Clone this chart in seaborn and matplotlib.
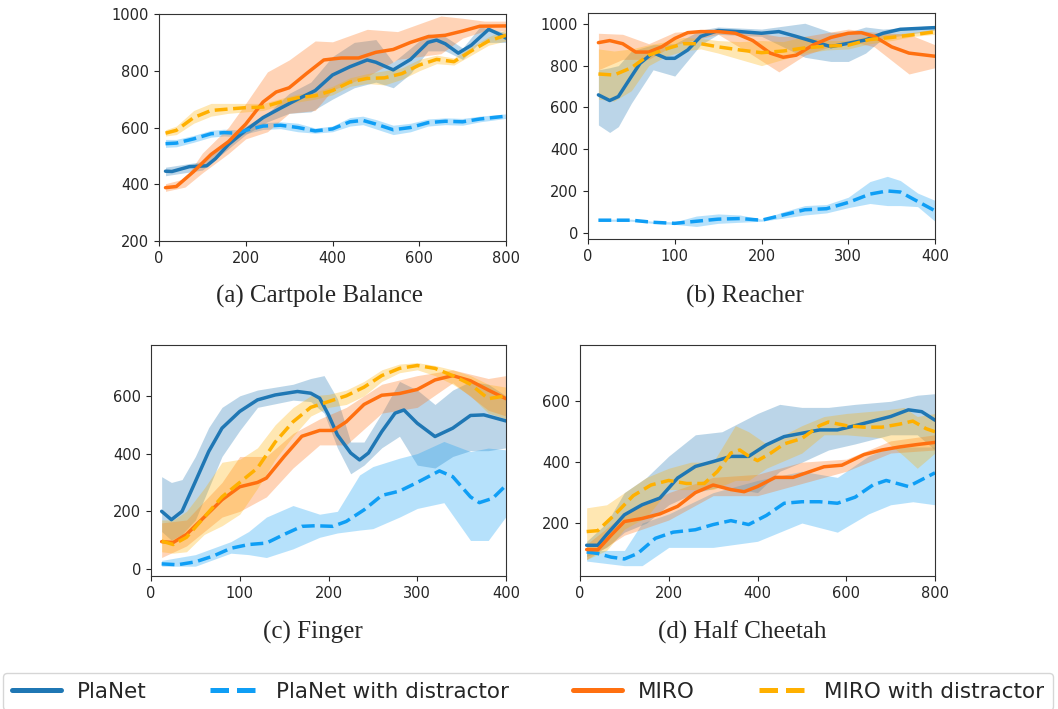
import numpy as np
import matplotlib
matplotlib.use("Agg")
import matplotlib.pyplot as plt
from matplotlib.lines import Line2D
import seaborn as sns

# colours
c_planet = "#1f77b4"
c_planet_d = "#0f9ef5"
c_miro = "#ff7010"
c_miro_d = "#ffb000"

labels = ["PlaNet", "PlaNet with distractor", "MIRO", "MIRO with distractor"]
captions = ["(a) Cartpole Balance", "(b) Reacher", "(c) Finger", "(d) Half Cheetah"]

# ---- (a) Cartpole Balance ----
a_planet_x = [15, 30, 70, 110, 130, 160, 200, 240, 280, 320, 360, 400, 440, 480, 500, 540, 580, 620, 640, 660, 690, 720, 760, 790, 800]
a_planet_y = [446, 445, 462, 465, 490, 540, 590, 635, 668, 700, 730, 785, 814, 838, 830, 803, 840, 900, 908, 895, 862, 890, 946, 925, 915]
a_planet_bx = [15, 100, 200, 250, 300, 350, 400, 450, 500, 540, 580, 620, 660, 700, 740, 800]
a_planet_lo = [430, 450, 575, 620, 650, 655, 700, 740, 760, 740, 790, 870, 870, 840, 900, 900]
a_planet_hi = [460, 480, 605, 650, 720, 760, 850, 900, 910, 830, 880, 930, 920, 880, 955, 935]

a_dist_x = [15, 40, 80, 120, 150, 180, 200, 240, 280, 320, 360, 400, 440, 470, 500, 540, 580, 620, 660, 700, 740, 800]
a_dist_y = [543, 545, 560, 578, 582, 580, 590, 605, 608, 600, 588, 595, 620, 625, 612, 592, 600, 617, 622, 620, 630, 640]
a_dist_lo = [530, 532, 548, 566, 570, 568, 578, 593, 596, 585, 580, 585, 605, 610, 595, 575, 585, 605, 610, 608, 620, 632]
a_dist_hi = [558, 558, 572, 590, 594, 592, 602, 617, 620, 615, 598, 605, 635, 640, 628, 608, 615, 630, 634, 632, 640, 648]

a_miro_x = [15, 40, 80, 120, 160, 200, 240, 270, 300, 340, 380, 420, 460, 500, 540, 580, 620, 660, 700, 740, 800]
a_miro_y = [388, 392, 445, 505, 550, 612, 690, 725, 740, 790, 838, 845, 845, 865, 875, 900, 920, 925, 940, 957, 958]
a_miro_bx = [15, 60, 100, 160, 200, 250, 300, 360, 400, 480, 550, 650, 700, 750, 800]
a_miro_lo = [375, 390, 440, 508, 560, 585, 650, 660, 732, 780, 840, 860, 915, 940, 940]
a_miro_hi = [402, 420, 510, 600, 685, 796, 838, 905, 902, 946, 938, 993, 985, 975, 975]

a_mirod_x = [15, 40, 80, 120, 160, 200, 240, 280, 320, 360, 400, 440, 480, 520, 560, 600, 640, 680, 720, 760, 800]
a_mirod_y = [580, 590, 635, 660, 665, 670, 672, 690, 705, 712, 730, 760, 773, 775, 790, 820, 840, 832, 870, 905, 925]
a_mirod_lo = [570, 575, 615, 640, 650, 655, 660, 678, 690, 700, 715, 745, 755, 750, 770, 800, 825, 820, 855, 890, 905]
a_mirod_hi = [592, 605, 660, 685, 685, 685, 685, 702, 718, 725, 745, 775, 790, 800, 810, 840, 855, 845, 885, 920, 945]

# ---- (b) Reacher ----
b_planet_x = [12, 25, 35, 50, 60, 75, 90, 100, 115, 130, 150, 175, 200, 220, 240, 260, 280, 300, 320, 340, 360, 400]
b_planet_y = [660, 633, 652, 748, 811, 862, 835, 835, 875, 940, 968, 963, 955, 963, 940, 915, 891, 907, 923, 955, 974, 982]
b_planet_bx = [12, 25, 35, 50, 75, 100, 130, 150, 200, 250, 280, 300, 320, 340, 400]
b_planet_lo = [516, 480, 508, 620, 780, 750, 900, 950, 940, 840, 820, 820, 860, 930, 970]
b_planet_hi = [780, 790, 800, 870, 900, 905, 970, 985, 975, 1003, 960, 960, 985, 975, 992]

b_dist_x = [12, 50, 75, 100, 125, 150, 175, 200, 225, 250, 275, 300, 325, 345, 360, 380, 400]
b_dist_y = [60, 60, 50, 45, 55, 65, 68, 60, 85, 110, 115, 145, 185, 200, 195, 150, 105]
b_dist_lo = [55, 55, 45, 40, 30, 45, 50, 55, 70, 85, 95, 120, 140, 130, 130, 125, 55]
b_dist_hi = [65, 65, 55, 52, 80, 90, 85, 65, 100, 130, 135, 170, 245, 270, 250, 190, 155]

b_miro_x = [12, 25, 40, 55, 70, 85, 100, 115, 130, 150, 170, 190, 210, 225, 240, 260, 280, 300, 315, 330, 350, 370, 400]
b_miro_y = [910, 920, 905, 865, 865, 890, 930, 958, 963, 963, 955, 920, 860, 840, 850, 900, 935, 955, 958, 940, 890, 860, 845]
b_miro_bx = [12, 40, 70, 100, 150, 190, 220, 250, 300, 330, 370, 400]
b_miro_lo = [780, 830, 830, 900, 950, 850, 770, 850, 920, 890, 760, 790]
b_miro_hi = [955, 950, 905, 960, 975, 960, 940, 940, 975, 960, 950, 900]

b_mirod_x = [12, 30, 50, 70, 90, 110, 130, 150, 175, 200, 225, 250, 275, 300, 325, 350, 375, 400]
b_mirod_y = [760, 755, 790, 850, 880, 905, 905, 890, 875, 862, 870, 885, 893, 898, 925, 935, 948, 962]
b_mirod_lo = [640, 630, 680, 800, 845, 870, 880, 860, 830, 800, 830, 860, 875, 880, 905, 920, 940, 950]
b_mirod_hi = [880, 870, 880, 900, 915, 935, 930, 920, 915, 920, 915, 940, 920, 920, 945, 950, 960, 975]

# ---- (c) Finger ----
c_planet_x = [12, 23, 35, 50, 65, 80, 100, 120, 140, 165, 180, 190, 200, 210, 225, 235, 245, 260, 275, 285, 300, 320, 340, 360, 375, 400]
c_planet_y = [200, 171, 200, 303, 407, 488, 546, 586, 603, 615, 609, 592, 534, 465, 402, 378, 402, 476, 540, 551, 505, 459, 488, 532, 534, 513]
c_planet_bx = [12, 23, 35, 50, 65, 80, 100, 120, 160, 180, 195, 210, 225, 240, 260, 280, 300, 320, 340, 360, 380, 400]
c_planet_lo = [130, 100, 120, 170, 280, 390, 480, 560, 585, 580, 540, 420, 330, 360, 420, 460, 360, 350, 390, 410, 410, 420]
c_planet_hi = [320, 300, 310, 390, 490, 560, 600, 620, 640, 660, 670, 590, 440, 440, 540, 650, 620, 570, 620, 650, 640, 600]

c_dist_x = [12, 30, 50, 70, 90, 110, 130, 150, 170, 185, 205, 220, 240, 260, 280, 300, 325, 340, 360, 370, 385, 400]
c_dist_y = [18, 15, 25, 45, 72, 85, 90, 120, 148, 150, 148, 165, 205, 255, 270, 300, 340, 320, 250, 230, 245, 290]
c_dist_bx = [12, 50, 90, 110, 130, 160, 190, 210, 235, 250, 280, 300, 330, 360, 380, 400]
c_dist_lo = [10, 10, 55, 50, 40, 70, 110, 125, 135, 140, 180, 210, 230, 99, 99, 182]
c_dist_hi = [30, 50, 95, 130, 180, 220, 190, 200, 326, 355, 384, 400, 442, 407, 419, 413]

c_miro_x = [12, 25, 40, 60, 80, 100, 120, 130, 150, 170, 190, 205, 220, 240, 260, 280, 300, 320, 340, 360, 380, 400]
c_miro_y = [95, 92, 120, 180, 240, 285, 300, 315, 390, 460, 480, 480, 510, 570, 602, 608, 622, 655, 670, 652, 620, 590]
c_miro_bx = [12, 40, 80, 100, 130, 160, 190, 220, 260, 300, 340, 380, 400]
c_miro_lo = [40, 80, 180, 200, 250, 350, 430, 430, 540, 560, 645, 550, 530]
c_miro_hi = [160, 170, 300, 390, 390, 470, 520, 560, 640, 670, 690, 660, 670]

c_mirod_x = [12, 25, 40, 60, 80, 100, 120, 140, 160, 180, 200, 220, 240, 260, 280, 300, 320, 340, 360, 380, 400]
c_mirod_y = [97, 85, 110, 180, 250, 300, 350, 440, 510, 560, 580, 600, 630, 670, 695, 705, 695, 670, 640, 590, 600]
c_mirod_lo = [60, 55, 60, 120, 150, 190, 280, 380, 460, 530, 560, 570, 600, 650, 680, 690, 670, 640, 600, 540, 520]
c_mirod_hi = [170, 170, 200, 280, 370, 380, 420, 500, 560, 600, 605, 620, 650, 690, 710, 715, 705, 690, 670, 640, 630]

# ---- (d) Half Cheetah ----
d_planet_x = [15, 40, 60, 100, 140, 180, 220, 260, 300, 340, 380, 420, 460, 500, 540, 580, 620, 660, 700, 740, 770, 800]
d_planet_y = [127, 127, 162, 227, 260, 282, 348, 386, 402, 419, 419, 457, 484, 495, 506, 506, 520, 535, 550, 572, 566, 538]
d_planet_bx = [15, 60, 100, 150, 200, 260, 320, 400, 450, 500, 560, 620, 700, 760, 800]
d_planet_lo = [90, 120, 170, 200, 260, 300, 320, 300, 370, 400, 440, 460, 490, 490, 440]
d_planet_hi = [140, 200, 300, 350, 420, 490, 500, 560, 590, 580, 580, 590, 600, 620, 625]

d_dist_x = [15, 40, 70, 100, 130, 170, 210, 260, 300, 340, 380, 420, 460, 500, 540, 580, 620, 660, 690, 740, 800]
d_dist_y = [105, 100, 88, 82, 100, 150, 170, 178, 195, 208, 195, 225, 265, 270, 270, 265, 285, 325, 340, 320, 365]
d_dist_bx = [15, 100, 140, 200, 300, 400, 500, 580, 650, 700, 750, 800]
d_dist_lo = [75, 60, 60, 120, 120, 140, 200, 170, 230, 260, 270, 260]
d_dist_hi = [110, 110, 200, 230, 300, 340, 370, 350, 420, 450, 450, 450]

d_miro_x = [15, 40, 70, 100, 140, 180, 220, 260, 300, 340, 370, 400, 440, 480, 520, 550, 590, 640, 680, 720, 760, 800]
d_miro_y = [113, 112, 160, 205, 215, 230, 255, 300, 325, 310, 303, 320, 350, 350, 370, 385, 390, 425, 440, 450, 458, 465]
d_miro_bx = [15, 100, 200, 300, 400, 500, 600, 700, 800]
d_miro_lo = [80, 160, 210, 290, 290, 330, 370, 430, 440]
d_miro_hi = [130, 230, 300, 350, 360, 400, 410, 470, 490]

d_mirod_x = [15, 40, 80, 120, 160, 200, 240, 280, 310, 340, 360, 380, 400, 430, 460, 500, 540, 560, 600, 640, 680, 720, 750, 780, 800]
d_mirod_y = [172, 175, 230, 290, 325, 340, 330, 330, 370, 430, 440, 420, 405, 430, 460, 478, 520, 532, 520, 515, 515, 525, 535, 510, 500]
d_mirod_bx = [15, 60, 100, 150, 200, 250, 300, 350, 380, 420, 500, 550, 600, 680, 730, 760, 800]
d_mirod_lo = [80, 110, 180, 220, 310, 310, 310, 340, 340, 380, 430, 490, 490, 480, 420, 380, 430]
d_mirod_hi = [250, 260, 300, 350, 380, 400, 400, 520, 500, 460, 520, 550, 560, 570, 580, 550, 560]

sns.set_style("ticks")
plt.rcParams["font.family"] = ["DejaVu Sans"]

W, H = 1058, 709
fig = plt.figure(figsize=(W / 100, H / 100), dpi=100)


def box(l, t, r, b):
    return [l / W, 1 - b / H, (r - l) / W, (b - t) / H]


panels = [
    dict(rect=box(159, 14, 506, 241), xlim=(0, 800), ylim=(200, 1000), xt=[0, 200, 400, 600, 800], yt=[200, 400, 600, 800, 1000],
         series=[(a_planet_x, a_planet_y, a_planet_bx, a_planet_lo, a_planet_hi),
                 (a_dist_x, a_dist_y, a_dist_x, a_dist_lo, a_dist_hi),
                 (a_miro_x, a_miro_y, a_miro_bx, a_miro_lo, a_miro_hi),
                 (a_mirod_x, a_mirod_y, a_mirod_x, a_mirod_lo, a_mirod_hi)],
         cap=(320, 296)),
    dict(rect=box(588, 13, 935, 239), xlim=(0, 400), ylim=(-30, 1052), xt=[0, 100, 200, 300, 400], yt=[0, 200, 400, 600, 800, 1000],
         series=[(b_planet_x, b_planet_y, b_planet_bx, b_planet_lo, b_planet_hi),
                 (b_dist_x, b_dist_y, b_dist_x, b_dist_lo, b_dist_hi),
                 (b_miro_x, b_miro_y, b_miro_bx, b_miro_lo, b_miro_hi),
                 (b_mirod_x, b_mirod_y, b_mirod_x, b_mirod_lo, b_mirod_hi)],
         cap=(745, 296)),
    dict(rect=box(151, 345, 506, 576), xlim=(0, 400), ylim=(-24, 776), xt=[0, 100, 200, 300, 400], yt=[0, 200, 400, 600],
         series=[(c_planet_x, c_planet_y, c_planet_bx, c_planet_lo, c_planet_hi),
                 (c_dist_x, c_dist_y, c_dist_bx, c_dist_lo, c_dist_hi),
                 (c_miro_x, c_miro_y, c_miro_bx, c_miro_lo, c_miro_hi),
                 (c_mirod_x, c_mirod_y, c_mirod_x, c_mirod_lo, c_mirod_hi)],
         cap=(313, 632)),
    dict(rect=box(580, 345, 935, 576), xlim=(0, 800), ylim=(26, 785), xt=[0, 200, 400, 600, 800], yt=[200, 400, 600],
         series=[(d_planet_x, d_planet_y, d_planet_bx, d_planet_lo, d_planet_hi),
                 (d_dist_x, d_dist_y, d_dist_bx, d_dist_lo, d_dist_hi),
                 (d_miro_x, d_miro_y, d_miro_bx, d_miro_lo, d_miro_hi),
                 (d_mirod_x, d_mirod_y, d_mirod_bx, d_mirod_lo, d_mirod_hi)],
         cap=(742, 632)),
]

colors = [c_planet, c_planet_d, c_miro, c_miro_d]
styles = ["-", "--", "-", "--"]

for i, p in enumerate(panels):
    ax = fig.add_axes(p["rect"])
    for (x, y, bx, lo, hi), col, ls in zip(p["series"], colors, styles):
        ax.fill_between(bx, lo, hi, color=col, alpha=0.3, linewidth=0)
        sns.lineplot(x=x, y=y, ax=ax, color=col, linewidth=2.5, linestyle=ls)
    ax.set_xlim(*p["xlim"])
    ax.set_ylim(*p["ylim"])
    ax.set_xticks(p["xt"])
    ax.set_yticks(p["yt"])
    ax.tick_params(labelsize=10.5, colors="#262626")
    for s in ax.spines.values():
        s.set_linewidth(0.8)
        s.set_color("#333333")
    ax.set_xlabel("")
    ax.set_ylabel("")
    cx, cy = p["cap"]
    fig.text(cx / W, 1 - cy / H, captions[i], ha="center", va="center",
             fontsize=18, family="Liberation Serif")

handles = [Line2D([], [], color=c, lw=3.6, ls=ls) for c, ls in zip(colors, styles)]
fig.legend(handles, labels, loc="upper left", ncol=4, mode="expand",
           bbox_to_anchor=(3 / W, 0, 1050 / W, 1 - 673 / H),
           fontsize=15.5, handlelength=2.3, handletextpad=0.75, borderaxespad=0)

fig.savefig("out.png", dpi=100)
